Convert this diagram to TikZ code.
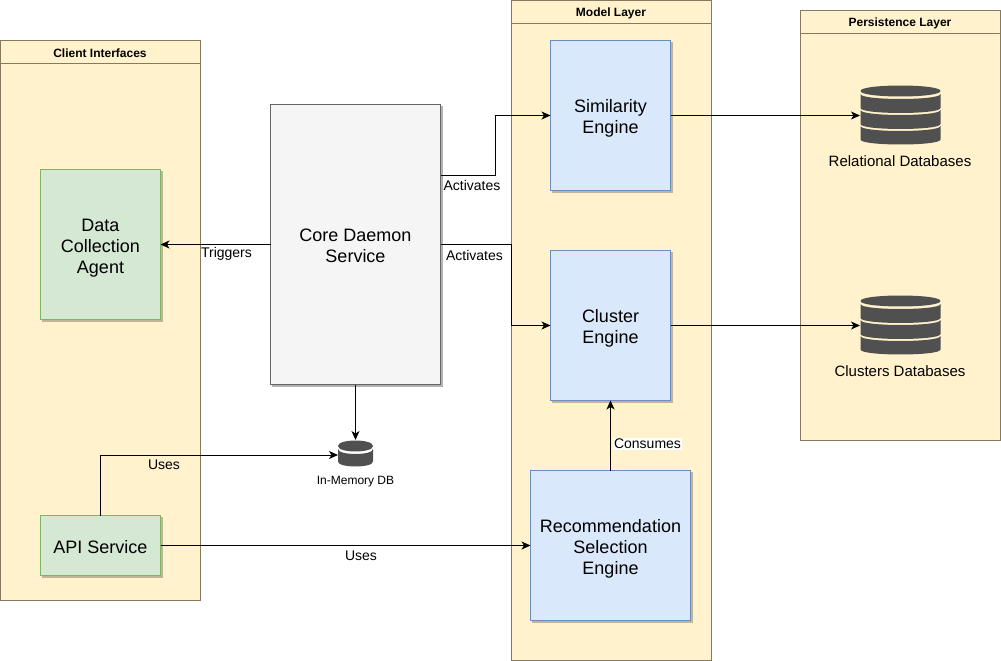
\documentclass[tikz,border=0pt]{standalone}
\usepackage{fontspec}
\setmainfont{Liberation Sans}
\usetikzlibrary{arrows.meta}
\definecolor{layerfill}{HTML}{FFF2CC}
\definecolor{layerline}{HTML}{857A5E}
\definecolor{greenfill}{HTML}{D5E8D4}
\definecolor{greenline}{HTML}{82B366}
\definecolor{bluefill}{HTML}{DAE8FC}
\definecolor{blueline}{HTML}{6C8EBF}
\definecolor{grayfill}{HTML}{F5F5F5}
\definecolor{grayline}{HTML}{666666}
\definecolor{dbfill}{HTML}{505050}
\newcommand{\topstrut}{\rule{0pt}{18.5pt}}
\newcommand{\topstrutb}{\rule{0pt}{20.5pt}}
\newcommand{\botstrut}{\rule[-4pt]{0pt}{4pt}}
\tikzset{
  x=1pt,y=-1pt,
  layerbox/.style={draw=layerline,fill=layerfill,line width=1pt},
  layertitle/.style={font=\fontsize{12}{14}\selectfont\bfseries,anchor=center,inner sep=0pt},
  card/.style={line width=1pt,inner sep=0pt,outer sep=0pt,align=center,font=\fontsize{18}{21}\selectfont,
    preaction={draw=black!25!layerfill,fill=black!25!layerfill,line width=1pt,transform canvas={xshift=2pt,yshift=-2pt}}},
  greencard/.style={card,draw=greenline,fill=greenfill},
  bluecard/.style={card,draw=blueline,fill=bluefill},
  graycard/.style={card,draw=grayline,fill=grayfill,
    preaction={draw=black!30,fill=black!30,line width=1pt,transform canvas={xshift=2pt,yshift=-2pt}}},
  conn/.style={draw=black,line width=1pt,-{Stealth[length=9pt,width=8pt,inset=2.5pt]}},
  lbl/.style={font=\fontsize{14}{16}\selectfont,inner sep=0pt},
  dblbl/.style={font=\fontsize{15}{17}\selectfont,inner sep=0pt}
}
\newcommand{\dbband}[5]{% cx, half width, bulge, side top, side bottom
  \fill[dbfill] (#1-#2,#4) .. controls (#1-#2,#4+1.33*#3) and (#1+#2,#4+1.33*#3) .. (#1+#2,#4)
    -- (#1+#2,#5) .. controls (#1+#2,#5+1.33*#3) and (#1-#2,#5+1.33*#3) .. (#1-#2,#5) -- cycle;}
\newcommand{\dbtop}[4]{% cx, cy, half width, half height
  \fill[dbfill] (#1-#3,#2) .. controls (#1-#3,#2+1.33*#4) and (#1+#3,#2+1.33*#4) .. (#1+#3,#2)
    .. controls (#1+#3,#2-1.33*#4) and (#1-#3,#2-1.33*#4) .. (#1-#3,#2) -- cycle;}
\begin{document}
\begin{tikzpicture}
\useasboundingbox (0,0) rectangle (1001,661);
% layers
\path[layerbox] (0.5,40.5) rectangle (200.5,600.5);
\draw[layerline,line width=1pt] (0.5,63.5) -- (200.5,63.5);
\node[layertitle] (tclient) at (100,53) {Client Interfaces};
\path[layerbox] (511.5,0.5) rectangle (711.5,660.5);
\draw[layerline,line width=1pt] (511.5,23.5) -- (711.5,23.5);
\node[layertitle] (tmodel) at (611,13) {Model Layer};
\path[layerbox] (800.5,10.5) rectangle (1000.5,440.5);
\draw[layerline,line width=1pt] (800.5,33.5) -- (1000.5,33.5);
\node[layertitle] (tpersist) at (900,23) {Persistence Layer};
% boxes
\node[greencard,minimum width=120pt,minimum height=150pt] (data) at (100.5,244.5) {\topstrutb Data\\Collection\\Agent\botstrut};
\node[greencard,minimum width=120pt,minimum height=60pt] (api) at (100.5,545.5) {\topstrutb API Service\botstrut};
\node[graycard,minimum width=170pt,minimum height=280pt] (core) at (355.5,244.5) {\topstrut Core Daemon\\Service\botstrut};
\node[bluecard,minimum width=120pt,minimum height=150pt] (sim) at (610.5,115.5) {\topstrut Similarity\\Engine\botstrut};
\node[bluecard,minimum width=120pt,minimum height=150pt] (cluster) at (610.5,325.5) {\topstrut Cluster\\Engine\botstrut};
\node[bluecard,minimum width=160pt,minimum height=150pt] (rec) at (610.5,545.5) {\topstrutb Recommendation\\Selection\\Engine\botstrut};
% database icons
\dbtop{900.5}{91}{40}{5.5}
\dbband{900.5}{40}{5}{94}{108}
\dbband{900.5}{40}{5}{110}{124}
\dbband{900.5}{40}{5}{126}{139.5}
\dbtop{900.5}{301}{40}{5.5}
\dbband{900.5}{40}{5}{304}{318}
\dbband{900.5}{40}{5}{320}{334}
\dbband{900.5}{40}{5}{336}{349.5}
\dbtop{355.5}{446}{17.5}{5.5}
\dbband{355.5}{17.5}{5}{449}{461.5}
\coordinate (rel) at (860,115.5);
\coordinate (clu) at (860,325.5);
\coordinate (mem) at (338,455);
\coordinate (memtop) at (355.5,440);
\node[dblbl] (lrel) at (900,161) {Relational Databases};
\node[dblbl] (lclu) at (900,371) {Clusters Databases};
\node[font=\fontsize{12}{14}\selectfont,inner sep=0pt] (lmem) at (355.5,481.5) {In-Memory DB};
% connectors
\coordinate (coreA) at (440.5,175);
\coordinate (bendA) at (495.5,115.5);
\coordinate (bendB) at (511,325.5);
\draw[conn] (coreA) -| (bendA) -- (sim.west);
\draw[conn] (core.east) -| (bendB) -- (cluster.west);
\draw[conn] (core.west) -- (data.east);
\draw[conn] (core.south) -- (memtop);
\draw[conn] (api.north) |- (mem);
\draw[conn] (api.east) -- (rec.west);
\draw[conn] (rec.north) -- (cluster.south);
\draw[conn] (sim.east) -- (rel);
\draw[conn] (cluster.east) -- (clu);
% edge labels
\node[lbl] (a1) at (472,185) {Activates};
\node[lbl] (a2) at (474.5,255) {Activates};
\node[lbl] (t1) at (226.5,253.5) {Triggers};
\node[lbl] (u1) at (164,465) {Uses};
\node[lbl] (u2) at (361,556) {Uses};
\node[lbl,fill=white,inner xsep=1pt,inner ysep=1pt] (c1) at (647.5,444) {Consumes};
\end{tikzpicture}
\end{document}
